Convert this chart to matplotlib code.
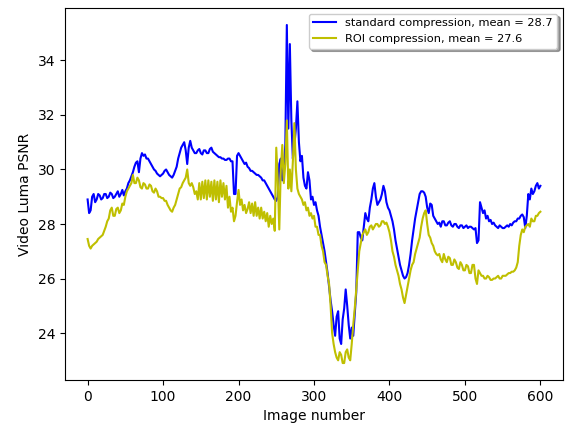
import numpy as np
import matplotlib
matplotlib.use("Agg")
import matplotlib.pyplot as plt

# image index, every 2nd frame
frames = np.arange(0, 601, 2)

psnr_standard = [
    # 0 - 38
    28.9, 28.4, 28.5, 29.0, 29.1, 28.8, 28.9, 29.1, 29.05, 28.9,
    28.95, 29.1, 29.1, 28.95, 29.0, 29.15, 29.1, 28.95, 29.0, 29.1,
    # 40 - 78
    29.2, 29.0, 29.1, 29.25, 29.05, 29.2, 29.3, 29.5, 29.6, 29.75,
    29.9, 30.1, 30.25, 30.3, 29.9, 30.4, 30.6, 30.5, 30.55, 30.4,
    # 80 - 118
    30.4, 30.3, 30.2, 30.1, 30.0, 29.95, 29.85, 29.8, 29.75, 29.8,
    29.85, 29.95, 30.0, 29.9, 29.8, 29.75, 29.7, 29.8, 29.95, 30.1,
    # 120 - 158
    30.4, 30.6, 30.8, 30.9, 31.0, 30.7, 30.2, 30.8, 31.05, 30.8,
    30.7, 30.6, 30.6, 30.7, 30.75, 30.6, 30.55, 30.7, 30.7, 30.6,
    # 160 - 198
    30.6, 30.75, 30.8, 30.65, 30.6, 30.55, 30.5, 30.45, 30.45, 30.4,
    30.4, 30.35, 30.35, 30.4, 30.4, 30.3, 30.3, 29.1, 29.1, 30.5,
    # 200 - 238
    30.6, 30.5, 30.4, 30.3, 30.2, 30.25, 30.1, 30.05, 29.95, 29.95,
    29.9, 29.85, 29.8, 29.8, 29.75, 29.7, 29.6, 29.6, 29.5, 29.4,
    # 240 - 278
    29.3, 29.2, 29.1, 29.0, 28.9, 28.85, 29.0, 30.2, 30.4, 29.6,
    30.0, 30.9, 35.3, 31.5, 34.6, 31.8, 30.4, 30.9, 31.5, 32.5,
    # 280 - 318
    31.0, 30.3, 30.5, 29.7, 29.4, 29.3, 29.9, 29.6, 28.9, 29.0,
    28.7, 28.8, 28.5, 28.3, 27.9, 27.6, 27.3, 27.0, 26.6, 26.2,
    # 320 - 358
    25.7, 25.2, 24.8, 24.3, 23.9, 24.6, 24.8, 23.8, 23.6, 24.5,
    24.9, 25.6, 25.0, 24.3, 23.8, 24.2, 23.9, 24.7, 25.5, 27.7,
    # 360 - 398
    27.7, 27.5, 27.4, 27.9, 28.4, 28.2, 28.1, 28.6, 28.9, 29.3,
    29.5, 29.0, 28.7, 28.8, 28.9, 29.1, 29.4, 29.2, 28.8, 28.6,
    # 400 - 438
    28.5, 28.3, 28.1, 27.8, 27.4, 27.1, 26.8, 26.5, 26.3, 26.1,
    26.0, 26.05, 26.2, 26.5, 26.9, 27.4, 27.8, 28.2, 28.5, 28.8,
    # 440 - 478
    29.1, 29.2, 29.2, 29.15, 29.0, 28.6, 28.4, 28.75, 28.7, 28.3,
    28.2, 28.1, 28.0, 28.05, 27.9, 28.1, 28.1, 27.95, 27.95, 28.05,
    # 480 - 518
    28.1, 27.95, 27.9, 28.0, 28.0, 27.9, 27.85, 27.95, 27.95, 27.85,
    27.9, 27.95, 27.85, 27.9, 27.9, 27.85, 27.8, 27.85, 27.3, 27.4,
    # 520 - 558
    28.8, 28.6, 28.4, 28.5, 28.2, 28.3, 28.1, 28.15, 28.0, 28.05,
    27.95, 27.9, 27.85, 27.95, 27.9, 27.85, 27.85, 27.9, 27.95, 27.9,
    # 560 - 598
    28.0, 27.95, 28.05, 28.1, 28.1, 28.2, 28.2, 28.3, 28.35, 28.25,
    27.85, 28.3, 29.1, 28.9, 29.3, 29.1, 29.2, 29.4, 29.5, 29.3,
    # 600
    29.4,
]

psnr_roi = [
    # 0 - 38
    27.45, 27.2, 27.1, 27.2, 27.25, 27.3, 27.35, 27.45, 27.5, 27.55,
    27.6, 27.75, 27.9, 28.1, 28.2, 28.5, 28.6, 28.3, 28.3, 28.55,
    # 40 - 78
    28.6, 28.4, 28.5, 28.75, 28.7, 29.0, 29.2, 29.3, 29.4, 29.5,
    29.8, 29.5, 29.5, 29.7, 29.6, 29.35, 29.3, 29.5, 29.45, 29.3,
    # 80 - 118
    29.3, 29.45, 29.4, 29.2, 29.15, 29.3, 29.2, 29.0, 29.0, 28.95,
    28.95, 28.85, 28.85, 28.7, 28.6, 28.5, 28.45, 28.6, 28.7, 28.9,
    # 120 - 158
    29.1, 29.3, 29.35, 29.5, 29.6, 29.7, 30.0, 29.5, 29.4, 29.5,
    29.35, 29.1, 29.2, 28.9, 29.5, 28.9, 29.55, 28.95, 29.6, 28.9,
    # 160 - 198
    29.6, 29.0, 29.55, 28.85, 29.6, 28.9, 29.55, 28.8, 29.6, 29.0,
    29.5, 28.9, 29.4, 28.6, 29.0, 28.45, 28.6, 28.1, 28.3, 28.8,
    # 200 - 238
    29.25, 28.7, 28.9, 28.5, 28.7, 28.4, 28.55, 28.8, 28.4, 28.75,
    28.3, 28.8, 28.3, 28.6, 28.2, 28.6, 28.2, 28.45, 28.1, 28.4,
    # 240 - 278
    27.9, 28.3, 28.0, 28.2, 27.75, 30.8, 29.6, 27.8, 30.0, 30.9,
    29.5, 30.2, 31.8, 29.3, 30.0, 29.2, 30.3, 31.7, 30.0, 29.3,
    # 280 - 318
    29.1, 29.0, 28.9, 28.7, 28.8, 28.5, 28.6, 28.3, 28.4, 28.2,
    28.3, 27.9, 27.9, 27.6, 27.6, 27.2, 27.0, 26.6, 26.5, 26.1,
    # 320 - 358
    25.8, 25.0, 24.0, 23.6, 23.3, 23.1, 23.0, 23.3, 23.2, 22.9,
    22.9, 23.3, 23.4, 23.1, 23.0, 23.6, 24.3, 24.9, 25.6, 26.3,
    # 360 - 398
    27.0, 27.3, 27.6, 27.7, 27.8, 27.6, 27.7, 27.9, 27.95, 27.8,
    27.9, 28.0, 28.0, 27.9, 27.95, 28.1, 28.1, 28.0, 28.05, 27.9,
    # 400 - 438
    27.7, 27.4, 27.0, 26.8, 26.5, 26.3, 26.1, 25.8, 25.6, 25.3,
    25.1, 25.4, 25.7, 26.0, 26.3, 26.5, 26.6, 26.9, 27.1, 27.3,
    # 440 - 478
    27.5, 27.9, 28.2, 28.4, 28.5, 28.0, 27.6, 27.5, 27.3, 27.2,
    27.0, 26.9, 26.85, 26.9, 26.7, 26.6, 26.9, 26.7, 26.6, 26.8,
    # 480 - 518
    26.75, 26.5, 26.5, 26.7, 26.6, 26.4, 26.35, 26.6, 26.5, 26.3,
    26.3, 26.5, 26.45, 26.2, 26.2, 26.5, 26.5, 26.0, 25.8, 26.3,
    # 520 - 558
    26.2, 26.1, 26.1, 26.0, 26.0, 26.1, 26.05, 25.95, 25.95, 26.0,
    26.0, 26.05, 26.1, 26.0, 26.0, 26.1, 26.1, 26.1, 26.15, 26.2,
    # 560 - 598
    26.2, 26.25, 26.25, 26.3, 26.4, 26.6, 27.2, 27.6, 27.8, 27.7,
    27.9, 27.95, 28.0, 27.9, 28.2, 28.1, 28.1, 28.3, 28.3, 28.4,
    # 600
    28.45,
]

fig = plt.figure(figsize=(5.65, 4.25), dpi=100)
ax = fig.add_axes([0.115, 0.106, 0.8815, 0.875])

ax.plot(frames, psnr_standard, color="b", lw=1.5,
        label="standard compression, mean = 28.7")
ax.plot(frames, psnr_roi, color="y", lw=1.5,
        label="ROI compression, mean = 27.6")

ax.set_xlabel("Image number")
ax.set_ylabel("Video Luma PSNR")
ax.set_xticks([0, 100, 200, 300, 400, 500, 600])
ax.set_yticks([24, 26, 28, 30, 32, 34])
ax.legend(loc="upper right", fontsize=8.2, shadow=True, fancybox=True)

fig.savefig("out.png", dpi=100)
